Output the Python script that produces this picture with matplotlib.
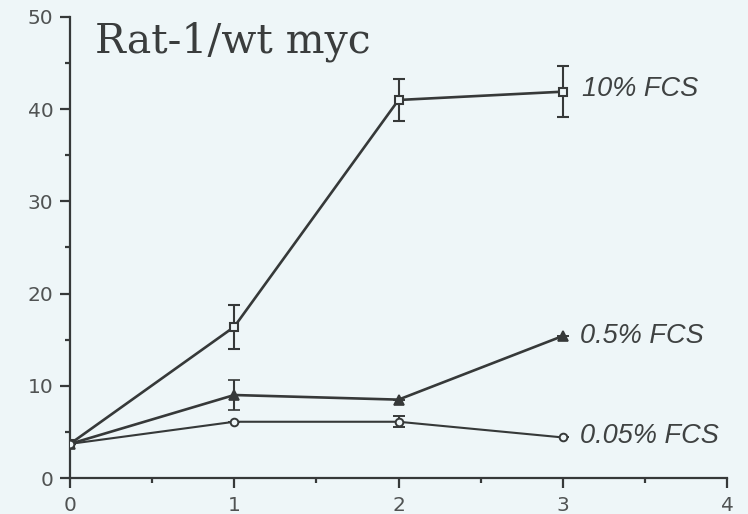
import matplotlib
matplotlib.use("Agg")
import matplotlib.pyplot as plt
from matplotlib.ticker import MultipleLocator

days = [0, 1, 2, 3]
fcs10 = [3.7, 16.4, 41.0, 41.9]
fcs10_err = [0.0, 2.4, 2.3, 2.8]
fcs05 = [3.7, 9.0, 8.5, 15.4]
fcs05_err = [0.0, 1.6, 0.0, 0.0]
fcs005 = [3.7, 6.1, 6.1, 4.4]
fcs005_err = [0.0, 0.0, 0.6, 0.0]
labels = ["10% FCS", "0.5% FCS", "0.05% FCS"]
title = "Rat-1/wt myc"

bg = "#eef6f8"
ink = "#363939"

fig = plt.figure(figsize=(7.48, 5.14), dpi=100, facecolor=bg)
ax = fig.add_axes([70/748, 1-478/514, (727-70)/748, (478-17)/514], facecolor=bg)

lw = 1.9
ax.errorbar(days, fcs10, yerr=fcs10_err, color=ink, lw=lw, marker="s", ms=5.5,
            mfc=bg, mec=ink, mew=1.5, capsize=4.5, elinewidth=1.5, capthick=1.5, zorder=3)
ax.errorbar(days, fcs05, yerr=fcs05_err, color=ink, lw=lw, marker="^", ms=6.5,
            mfc=ink, mec=ink, mew=1.2, capsize=4.5, elinewidth=1.5, capthick=1.5, zorder=3)
ax.errorbar(days, fcs005, yerr=fcs005_err, color=ink, lw=1.5, marker="o", ms=5.5,
            mfc=bg, mec=ink, mew=1.4, capsize=4, elinewidth=1.5, capthick=1.5, zorder=3)

ax.set_xlim(0, 4)
ax.set_ylim(0, 50)
for s in ["top", "right"]:
    ax.spines[s].set_visible(False)
for s in ["left", "bottom"]:
    ax.spines[s].set_color(ink)
    ax.spines[s].set_linewidth(1.6)

ax.xaxis.set_major_locator(MultipleLocator(1))
ax.xaxis.set_minor_locator(MultipleLocator(0.5))
ax.yaxis.set_major_locator(MultipleLocator(10))
ax.yaxis.set_minor_locator(MultipleLocator(5))
ax.tick_params(which="major", length=7, width=1.6, color=ink, labelcolor="#505353",
               labelsize=14.5)
ax.tick_params(which="minor", length=3.5, width=1.6, color=ink)
ax.tick_params(axis="x", pad=6)
ax.tick_params(axis="y", pad=5)
for t in ax.get_xticklabels() + ax.get_yticklabels():
    t.set_fontfamily("DejaVu Sans")

lab_kw = dict(fontsize=19.5, style="italic", family="Liberation Sans", color="#3f4242",
              va="center", ha="left", clip_on=False)
ax.text(3.12, fcs10[-1] + 0.3, labels[0], **lab_kw)
ax.text(3.105, fcs05[-1], labels[1], **lab_kw)
ax.text(3.105, fcs005[-1] + 0.2, labels[2], **lab_kw)

ax.text(0.155, 46.2, title, fontsize=29.5, family="DejaVu Serif", color="#3a3d3d",
        va="baseline", ha="left")

fig.savefig("out.png", dpi=100, facecolor=bg)
